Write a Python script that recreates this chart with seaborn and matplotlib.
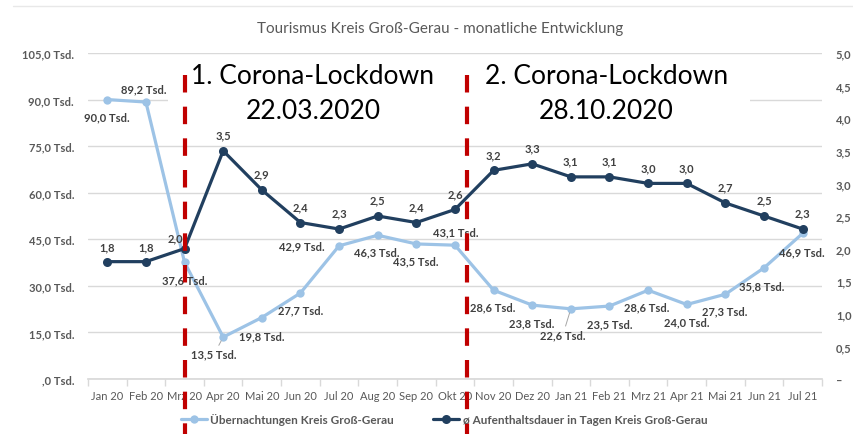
import numpy as np
import matplotlib
matplotlib.use("Agg")
import matplotlib.pyplot as plt
from matplotlib.lines import Line2D
from matplotlib.patches import Rectangle
import seaborn as sns

# data
months = ["Jan 20", "Feb 20", "Mrz 20", "Apr 20", "Mai 20", "Jun 20", "Jul 20", "Aug 20",
          "Sep 20", "Okt 20", "Nov 20", "Dez 20", "Jan 21", "Feb 21", "Mrz 21", "Apr 21",
          "Mai 21", "Jun 21", "Jul 21"]
uebernachtungen = [90.0, 89.2, 37.6, 13.5, 19.8, 27.7, 42.9, 46.3, 43.5, 43.1, 28.6, 23.8,
                   22.6, 23.5, 28.6, 24.0, 27.3, 35.8, 46.9]
aufenthalt = [1.8, 1.8, 2.0, 3.5, 2.9, 2.4, 2.3, 2.5, 2.4, 2.6, 3.2, 3.3, 3.1, 3.1, 3.0, 3.0,
              2.7, 2.5, 2.3]
left_ticks = [0, 15, 30, 45, 60, 75, 90, 105]
right_ticks = [0, 0.5, 1.0, 1.5, 2.0, 2.5, 3.0, 3.5, 4.0, 4.5, 5.0]
lockdowns = ["1. Corona-Lockdown\n22.03.2020", "2. Corona-Lockdown\n28.10.2020"]
lockdown_x = [2.0, 9.32]

# label offsets in pixels (dx, dy)
light_off = [(0, -17), (-2, 13), (0, -18), (-9, -17), (0, -18), (0, -17), (-37, 0), (-1, -17),
             (-1, -17), (1, 13), (-1, -17), (-1, -18), (-8, -26), (0, -18), (-1, -17), (0, -17),
             (-1, -17), (-2, -18), (-1, -18)]
dark_off = [(0, 15), (0, 15), (-9, 11), (0, 16), (0, 16), (0, 16), (0, 16), (0, 16), (0, 16),
            (0, 16), (0, 16), (0, 16), (0, 16), (0, 16), (0, 16), (0, 16), (0, 16), (0, 16), (0, 16)]

light = "#9DC3E6"
dark = "#213F5F"
grey_txt = "#595959"
lbl_txt = "#404040"

sns.set_theme(style="white")
plt.rcParams['font.family'] = ['Lato', 'DejaVu Sans']

fig = plt.figure(figsize=(8.54, 4.35), dpi=100)
ax = fig.add_axes([0.103, 0.1264, 0.8595, 0.7495])
ax2 = ax.twinx()

x = np.arange(len(months))
sns.lineplot(x=x, y=uebernachtungen, ax=ax, color=light, marker="o", markersize=6,
             markeredgewidth=0, linewidth=2.3, label="Übernachtungen Kreis Groß-Gerau", legend=False)
sns.lineplot(x=x, y=aufenthalt, ax=ax2, color=dark, marker="o", markersize=6.5,
             markeredgewidth=0, linewidth=2.3, label="ø Aufenthaltsdauer in Tagen Kreis Groß-Gerau",
             legend=False)

ax.set_xlim(-0.5, len(months) - 0.5)
ax.set_ylim(0, 105)
ax2.set_ylim(0, 5)
ax.set_yticks(left_ticks)
ax.set_yticklabels([(f"{v:.1f}".replace(".", ",") if v else ",0") + " Tsd." for v in left_ticks])
ax2.set_yticks(right_ticks)
ax2.set_yticklabels([f"{v:.1f}".replace(".", ",") if v else "–" for v in right_ticks])
ax.set_xticks(x)
ax.set_xticklabels(months)
ax.set_xticks(np.arange(-0.5, len(months)), minor=True)

ax.grid(axis="y", color="#D9D9D9", linewidth=1)
ax.grid(axis="x", visible=False)
for a in (ax, ax2):
    for s in a.spines.values():
        s.set_visible(False)
ax.spines["bottom"].set_visible(True)
ax.spines["bottom"].set_color("#D9D9D9")
ax.tick_params(axis="x", which="major", length=0, pad=8, labelsize=8, labelcolor=grey_txt)
ax.tick_params(axis="x", which="minor", length=5, color="#D9D9D9", width=1, bottom=True)
ax.tick_params(axis="y", length=0, pad=10, labelsize=8, labelcolor=grey_txt)
ax2.tick_params(axis="y", length=0, pad=10, labelsize=8, labelcolor=grey_txt)
for t in ax.get_yticklabels() + ax2.get_yticklabels():
    t.set_fontweight("bold")

# data labels
for i, v in enumerate(uebernachtungen):
    dx, dy = light_off[i]
    arrow = dict(arrowstyle="-", color="#A6A6A6", lw=0.7, shrinkA=0, shrinkB=3) if i in (3, 12) else None
    ax.annotate(f"{v:.1f}".replace(".", ",") + " Tsd.", (i, v), xytext=(dx * 0.72, dy * 0.72),
                textcoords="offset points", ha="center", va="center", fontsize=8,
                fontweight="bold", color=lbl_txt, arrowprops=arrow)
for i, v in enumerate(aufenthalt):
    dx, dy = dark_off[i]
    ax2.annotate(f"{v:.1f}".replace(".", ","), (i, v), xytext=(dx * 0.72, dy * 0.72),
                 textcoords="offset points", ha="center", va="center", fontsize=8,
                 fontweight="bold", color=lbl_txt)

# white boxes behind lockdown captions
ax2.add_patch(Rectangle((0.109, 0.773), 0.793, 0.209, transform=ax2.transAxes,
                        facecolor="white", edgecolor="none", zorder=3))
text_x = [0.3065, 0.7065]
for lx, tx, txt in zip(lockdown_x, text_x, lockdowns):
    ax2.plot([lx, lx], [0.933, -0.169], transform=ax2.get_xaxis_transform(), clip_on=False,
             color="#C00000", linewidth=3, dashes=(4.2, 3.4), zorder=6)
    ax2.text(tx, 0.876, txt, transform=ax2.transAxes, ha="center", va="center",
             fontsize=19, color="black", linespacing=1.5, zorder=5)

fig.text(0.515, 0.933, "Tourismus Kreis Groß-Gerau - monatliche Entwicklung", ha="center",
         va="center", fontsize=11, color=grey_txt)
fig.add_artist(Line2D([0.015, 1.0], [0.984, 0.984], color="#E8E8E8", linewidth=1))

handles = [Line2D([], [], color=light, marker="o", markersize=6, markeredgewidth=0, linewidth=2.3),
           Line2D([], [], color=dark, marker="o", markersize=6.5, markeredgewidth=0, linewidth=2.3)]
labels = ["Übernachtungen Kreis Groß-Gerau", "ø Aufenthaltsdauer in Tagen Kreis Groß-Gerau"]
leg = fig.legend(handles, labels, loc="center", bbox_to_anchor=(0.52, 0.034), ncol=2,
                 frameon=False, fontsize=8.5, handlelength=2.2, handletextpad=0.3, columnspacing=3.3)
for t in leg.get_texts():
    t.set_color(grey_txt)
    t.set_fontweight("bold")

fig.savefig("out.png", dpi=100)
